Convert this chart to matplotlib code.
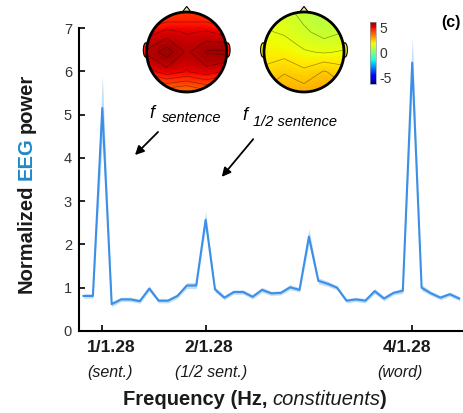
import numpy as np
import matplotlib
matplotlib.use("Agg")
import matplotlib.pyplot as plt
from matplotlib.patches import Circle, Ellipse, Polygon
import matplotlib.colors as mcolors
import matplotlib.cm as cm

plt.rcParams["font.family"] = ["Liberation Sans", "DejaVu Sans"]
plt.rcParams["axes.unicode_minus"] = False

W, H = 463, 413

# spectrum: frequency bins (k / (11 sentences * 1.28 s))
bins = np.arange(9, 50)
power = [0.81, 0.81, 5.15, 0.62, 0.73, 0.73, 0.69, 0.98, 0.70, 0.70, 0.81, 1.05, 1.05,
         2.57, 0.96, 0.77, 0.90, 0.90, 0.79, 0.95, 0.87, 0.88, 1.01, 0.95,
         2.18, 1.16, 1.09, 1.00, 0.70, 0.73, 0.70, 0.92, 0.75, 0.88, 0.93,
         6.20, 1.00, 0.87, 0.77, 0.85, 0.75]
sem = [0.05, 0.05, 0.75, 0.06, 0.05, 0.05, 0.05, 0.06, 0.05, 0.05, 0.05, 0.07, 0.07,
       0.20, 0.06, 0.05, 0.05, 0.05, 0.05, 0.06, 0.05, 0.05, 0.06, 0.05,
       0.18, 0.07, 0.06, 0.05, 0.05, 0.05, 0.05, 0.06, 0.05, 0.05, 0.06,
       0.60, 0.07, 0.05, 0.05, 0.05, 0.05]

tick_freqs = [1 / 1.28, 2 / 1.28, 4 / 1.28]
tick_labels = ["1/1.28", "2/1.28", "4/1.28"]
tick_notes = ["(sent.)", "(1/2 sent.)", "(word)"]

# topography values on a 5x5 grid (rows front -> back)
topo_sentence = np.array([
    [3.8, 4.2, 4.4, 4.3, 3.9],
    [5.0, 5.4, 5.2, 5.3, 5.0],
    [5.8, 6.4, 5.6, 6.2, 6.3],
    [5.0, 5.5, 5.2, 5.5, 5.1],
    [3.0, 3.5, 3.3, 3.7, 3.2],
])
topo_half = np.array([
    [1.5, 1.4, 1.0, 0.8, 0.9],
    [1.7, 1.6, 1.3, 1.0, 1.2],
    [1.9, 1.9, 1.7, 1.6, 1.7],
    [2.2, 2.5, 2.2, 2.6, 2.3],
    [2.6, 3.0, 2.8, 3.1, 2.7],
])
cbar_ticks = [-5, 0, 5]


def fp(x, y):
    """image pixel (from top-left) -> figure fraction"""
    return x / W, 1 - y / H


def draw_head(ax, values, norm):
    ax.set_xlim(-1.25, 1.25)
    ax.set_ylim(-1.25, 1.25)
    ax.set_aspect("equal")
    ax.axis("off")
    img = ax.imshow(values, extent=(-1.25, 1.25, -1.25, 1.25), origin="upper",
                    cmap="jet", norm=norm, interpolation="bicubic", zorder=2)
    head = Circle((0, 0), 1.0, transform=ax.transData)
    img.set_clip_path(head)
    xs = np.linspace(-1, 1, 5)
    ys = np.linspace(-1, 1, 5)
    cs = ax.contour(xs, ys, values[::-1], levels=np.arange(-6, 7, 0.45),
                    colors="k", linewidths=0.5, alpha=0.4, zorder=3)
    cs.set_clip_path(head)
    edge_col = cm.jet(norm(values.mean()))
    for sx in (-1, 1):
        ax.add_patch(Ellipse((sx * 1.02, 0.05), 0.13, 0.36, fc=edge_col, ec="k",
                             lw=0.8, zorder=1))
    ax.add_patch(Polygon([(-0.13, 0.97), (0, 1.14), (0.13, 0.97)], closed=True,
                         fc="#f4e7a8", ec="k", lw=0.8, zorder=1))
    ax.add_patch(Circle((0, 0), 1.0, fill=False, ec="k", lw=2, zorder=4))


fig = plt.figure(figsize=(W / 100, H / 100), dpi=100)

# main spectrum axes
ax = fig.add_axes([79 / W, 82 / H, (W - 79) / W, 303 / H])
freq = bins / (11 * 1.28)
lo = np.array(power) - np.array(sem)
hi = np.array(power) + np.array(sem)
ax.fill_between(freq, lo, hi, color="#a9cff3", alpha=0.7, lw=0)
ax.plot(freq, power, color="#3b8fe6", lw=1.5)
ax.set_xlim(0.605, 3.509)
ax.set_ylim(0, 7)
ax.set_yticks(range(8))
ax.set_xticks(tick_freqs)
ax.set_xticklabels([])
ax.tick_params(direction="in", length=4, width=1.2, labelsize=10.5,
               labelcolor="#333333", pad=5)
for side in ("top", "right"):
    ax.spines[side].set_visible(False)
for side in ("left", "bottom"):
    ax.spines[side].set_linewidth(1.5)

# x tick labels with notes
label_x = [111, 209, 407]
note_x = [110.5, 211, 400]
for lab, note, lx, nx in zip(tick_labels, tick_notes, label_x, note_x):
    fig.text(*fp(lx, 348), lab, fontsize=12.5, fontweight="bold",
             ha="center", va="center", color="#1a1a1a")
    fig.text(*fp(nx, 373), note, fontsize=11.5, style="italic",
             ha="center", va="center", color="#1a1a1a")

fig.canvas.draw()
renderer = fig.canvas.get_renderer()

# x label: bold + italic pieces chained left to right
parts = [("Frequency (Hz,", dict(fontweight="bold")),
         ("constituents", dict(style="italic")),
         (")", dict(fontweight="bold"))]
gaps = [4.5, 0.5, 0]
texts = []
x = 0
for (s, kw), g in zip(parts, gaps):
    t = fig.text(0, 0, s, fontsize=14.5, ha="left", va="baseline",
                 color="#1a1a1a", **kw)
    w = t.get_window_extent(renderer).width
    texts.append((t, x))
    x += w + g
start = 255 - x / 2
for t, off in texts:
    t.set_position(fp(start + off, 405))

# y label with blue "EEG"
parts = [("Normalized", "#1a1a1a"), ("EEG", "#1e88c8"), ("power", "#1a1a1a")]
y = 293
for s, c in parts:
    t = fig.text(*fp(31.5, y), s, fontsize=14.5, fontweight="bold", color=c,
                 rotation=90, rotation_mode="anchor", ha="left", va="baseline")
    h = t.get_window_extent(renderer).height
    y -= h + 4.5

# annotations
fig.text(*fp(152, 113), "f", fontsize=13, style="italic", ha="center", va="center")
fig.text(*fp(162, 118), "sentence", fontsize=10.5, style="italic", ha="left", va="center")
fig.text(*fp(245, 116), "f", fontsize=13, style="italic", ha="center", va="center")
fig.text(*fp(253, 122), "1/2 sentence", fontsize=10.5, style="italic", ha="left", va="center")
for (x0, y0), (x1, y1) in [((160, 130), (133, 157)), ((255, 137), (220, 179))]:
    ax.annotate("", xy=(x1, H - y1), xytext=(x0, H - y0),
                xycoords="figure pixels", textcoords="figure pixels",
                arrowprops=dict(arrowstyle="-|>", color="k", lw=1.3,
                                mutation_scale=13))

# topographies
norm = mcolors.Normalize(vmin=-6.3, vmax=6.3)
for cx, vals in [(186.7, topo_sentence), (304, topo_half)]:
    tax = fig.add_axes([(cx - 50) / W, (H - 52 - 50) / H, 100 / W, 100 / H])
    draw_head(tax, vals, norm)

# colorbar
cax = fig.add_axes([370 / W, (H - 83.5) / H, 5.5 / W, 62 / H])
cb = fig.colorbar(cm.ScalarMappable(norm=norm, cmap="jet"), cax=cax)
cb.set_ticks(cbar_ticks)
cb.ax.tick_params(length=0, labelsize=10, pad=3, labelcolor="#333333")
cb.outline.set_linewidth(0.5)
cb.outline.set_edgecolor("#999999")

fig.text(*fp(451, 22), "(c)", fontsize=11.5, fontweight="bold", ha="center", va="center")

fig.savefig("out.png", dpi=100)
